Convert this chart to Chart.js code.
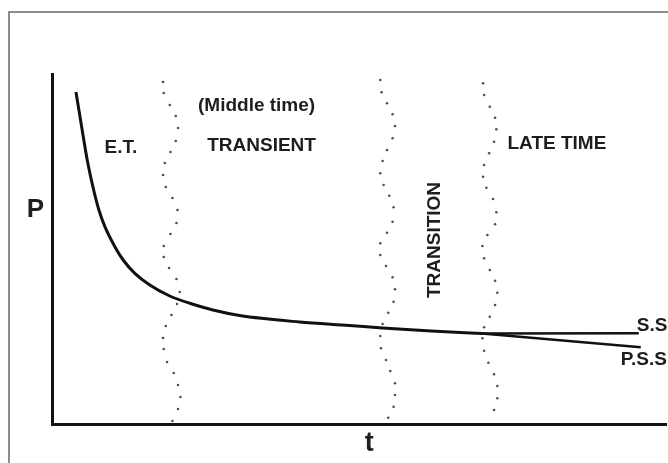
<!DOCTYPE html>
<html>
<head>
<meta charset="utf-8">
<script src="https://cdn.jsdelivr.net/npm/chart.js@4/dist/chart.umd.min.js"></script>
<style>
  html, body { margin: 0; padding: 0; background: #fff; }
  #wrap { width: 668px; height: 463px; position: relative; overflow: hidden; }
</style>
</head>
<body>
<div id="wrap"><canvas id="c" width="668" height="463"></canvas></div>
<script>
// ---- Data (arbitrary units) ----
// Pressure response curve P(t)
const curveT = [2.4, 2.97, 3.53, 4.2, 4.7, 5.3, 6.3, 7.13, 8.3, 9.8, 11.8, 13.8, 16.13, 18.8, 24.8, 29.8, 33.1, 38.0, 43.1];
const curveP = [33.2, 29.73, 26.4, 23.3, 21.4, 19.73, 17.73, 16.4, 15.07, 13.9, 12.8, 12.07, 11.4, 10.85, 10.2, 9.85, 9.6, 9.3, 9.05];
// Steady state branch
const ssT = [43.1, 58.8];
const ssP = [9.05, 9.07];
// Pseudo-steady state branch
const pssT = [43.1, 59.0];
const pssP = [9.05, 7.67];
// Wavy dotted boundaries between flow periods
const b1T = [11.97, 11.4, 11.13, 11.2, 11.8, 12.4, 12.63, 12.4, 11.87, 11.3, 11.13, 11.4, 12.07, 12.57, 12.47, 11.87, 11.2, 11.2, 11.73, 12.47, 12.8, 12.53, 11.97, 11.4, 11.13, 11.2, 11.53, 12.2, 12.63, 12.87, 12.63, 12.07];
const b1P = [36.5, 35.3, 34.2, 33.1, 31.9, 30.8, 29.6, 28.3, 27.2, 26.1, 24.9, 23.7, 22.6, 21.4, 20.1, 19.0, 17.8, 16.7, 15.6, 14.5, 13.2, 12.0, 10.9, 9.8, 8.6, 7.5, 6.2, 5.1, 3.9, 2.7, 1.5, 0.3];
const b2T = [33.63, 33.13, 32.9, 33.03, 33.57, 34.13, 34.37, 34.13, 33.57, 33.13, 32.9, 33.23, 33.8, 34.23, 34.13, 33.57, 32.9, 32.9, 33.47, 34.13, 34.37, 34.23, 33.7, 33.13, 32.9, 32.97, 33.47, 33.9, 34.37, 34.37, 34.23, 33.7];
const b2P = [36.73, 35.57, 34.4, 33.17, 32.07, 30.97, 29.8, 28.57, 27.4, 26.3, 25.07, 23.9, 22.83, 21.67, 20.23, 19.13, 18.07, 16.9, 15.8, 14.67, 13.47, 12.23, 11.13, 10.0, 8.8, 7.57, 6.4, 5.3, 4.07, 2.9, 1.73, 0.63];
const b3T = [43.97, 43.4, 43.2, 43.3, 43.87, 44.4, 44.53, 44.3, 43.8, 43.3, 43.2, 43.53, 44.2, 44.53, 44.4, 43.63, 43.13, 43.3, 43.87, 44.4, 44.63, 44.4, 43.87, 43.3, 43.13, 43.3, 43.73, 44.3, 44.63, 44.63, 44.3];
const b3P = [36.4, 35.17, 34.07, 32.9, 31.73, 30.63, 29.47, 28.23, 27.07, 25.9, 24.73, 23.63, 22.5, 21.17, 19.97, 18.9, 17.8, 16.57, 15.4, 14.33, 13.13, 11.9, 10.73, 9.67, 8.57, 7.33, 6.13, 4.97, 3.8, 2.57, 1.4];
// Text labels
const regionLabels = ["E.T.", "(Middle time)", "TRANSIENT", "TRANSITION", "LATE TIME"];
const endLabels = ["S.S.", "P.S.S."];
const axisLabels = ["P", "t"];

// ---- helpers ----
const pts = (xs, ys) => xs.map((x, i) => ({ x: x, y: ys[i] }));

// Label placement (in data units) — layout, not data
const labelLayout = [
  { text: regionLabels[0], x: 6.9, y: 27.6, align: 'center', size: 19 },
  { text: regionLabels[1], x: 20.5, y: 31.8, align: 'center', size: 19 },
  { text: regionLabels[2], x: 21.0, y: 27.85, align: 'center', size: 19 },
  { text: regionLabels[3], x: 38.4, y: 18.4, align: 'center', size: 19, rotate: true },
  { text: regionLabels[4], x: 50.6, y: 28.05, align: 'center', size: 19 },
  { text: endLabels[0], x: 58.6, y: 9.8, align: 'left', size: 19 },
  { text: endLabels[1], x: 57.0, y: 6.4, align: 'left', size: 19 },
  { text: axisLabels[0], x: -1.65, y: 21.4, align: 'center', size: 26 },
  { text: axisLabels[1], x: 31.8, y: -2.0, align: 'center', size: 27 }
];

const framePlugin = {
  id: 'frame',
  beforeDraw(chart) {
    const ctx = chart.ctx;
    ctx.save();
    ctx.fillStyle = '#ffffff';
    ctx.fillRect(0, 0, chart.width, chart.height);
    ctx.strokeStyle = '#8c8c8c';
    ctx.lineWidth = 2;
    ctx.beginPath();
    ctx.moveTo(9, chart.height + 5);
    ctx.lineTo(9, 12);
    ctx.lineTo(chart.width + 5, 12);
    ctx.stroke();
    ctx.restore();
  }
};

const textPlugin = {
  id: 'texts',
  afterDraw(chart) {
    const ctx = chart.ctx;
    const xs = chart.scales.x, ys = chart.scales.y;
    ctx.save();
    ctx.fillStyle = '#1e1e1e';
    ctx.textBaseline = 'middle';
    labelLayout.forEach(l => {
      const px = xs.getPixelForValue(l.x);
      const py = ys.getPixelForValue(l.y);
      ctx.font = 'bold ' + l.size + 'px "Liberation Sans", Arial, sans-serif';
      ctx.textAlign = l.align;
      if (l.rotate) {
        ctx.save();
        ctx.translate(px, py);
        ctx.rotate(-Math.PI / 2);
        ctx.fillText(l.text, 0, 0);
        ctx.restore();
      } else {
        ctx.fillText(l.text, px, py);
      }
    });
    ctx.restore();
  }
};

const dotStyle = {
  showLine: false,
  pointRadius: 1.3,
  pointHoverRadius: 1.3,
  pointBackgroundColor: '#505050',
  pointBorderWidth: 0,
  clip: false
};

new Chart(document.getElementById('c'), {
  type: 'line',
  data: {
    datasets: [
      { data: pts(curveT, curveP), borderColor: '#111', borderWidth: 3, pointRadius: 0, cubicInterpolationMode: 'monotone', clip: false },
      { data: pts(ssT, ssP), borderColor: '#111', borderWidth: 2.5, pointRadius: 0, clip: false },
      { data: pts(pssT, pssP), borderColor: '#111', borderWidth: 2.5, pointRadius: 0, clip: false },
      Object.assign({ data: pts(b1T, b1P) }, dotStyle),
      Object.assign({ data: pts(b2T, b2P) }, dotStyle),
      Object.assign({ data: pts(b3T, b3P) }, dotStyle)
    ]
  },
  options: {
    responsive: false,
    animation: false,
    events: [],
    layout: { padding: { left: 52, top: 74, right: 0, bottom: 39 } },
    plugins: { legend: { display: false }, tooltip: { enabled: false } },
    scales: {
      x: {
        type: 'linear', min: 0, max: 61.6,
        grid: { display: false, drawTicks: false },
        ticks: { display: false },
        border: { display: true, color: '#111', width: 3 },
        afterFit(s) { s.height = 0; }
      },
      y: {
        type: 'linear', min: 0, max: 35,
        grid: { display: false, drawTicks: false },
        ticks: { display: false },
        border: { display: true, color: '#111', width: 3 },
        afterFit(s) { s.width = 0; }
      }
    }
  },
  plugins: [framePlugin, textPlugin]
});
</script>
</body>
</html>
